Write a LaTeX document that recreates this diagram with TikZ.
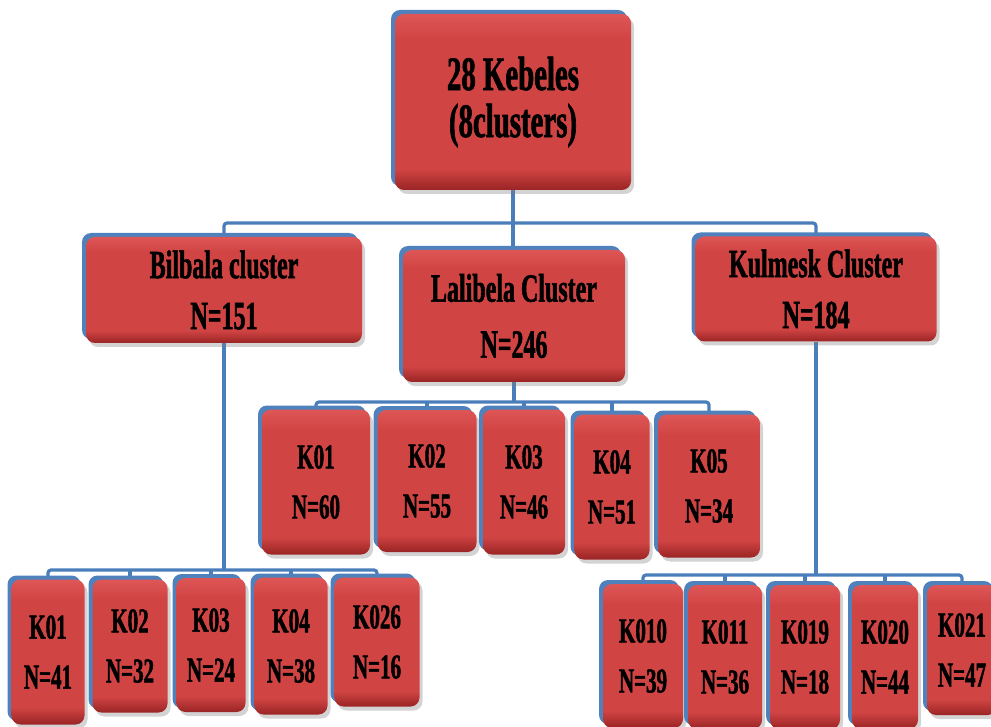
\documentclass[tikz,border=0pt]{standalone}
\usepackage{fontspec}
\newfontfamily\bx[FakeStretch=0.6,FakeBold=1.3]{Liberation Serif Bold}
\usetikzlibrary{shadows}
\definecolor{redtop}{HTML}{DE5656}
\definecolor{redmid}{HTML}{D14444}
\definecolor{redbot}{HTML}{9A2424}
\definecolor{bluebk}{HTML}{4F81BD}
\definecolor{conncol}{HTML}{4A7EBB}
\pgfdeclareverticalshading{redbox}{100bp}{color(0bp)=(redbot); color(25bp)=(redbot); color(31bp)=(redmid); color(68bp)=(redmid); color(75bp)=(redtop); color(100bp)=(redtop)}
\pgfdeclarelayer{background}
\pgfsetlayers{background,main}
\tikzset{
  box/.style={rounded corners=9pt, shading=redbox, align=center, text=black, inner sep=0pt,
    general shadow={fill=bluebk, shadow xshift=-4pt, shadow yshift=4pt},
    drop shadow={shadow xshift=3pt, shadow yshift=-4pt, opacity=.35}},
  topbox/.style={box, font=\bx\fontsize{48}{47}\selectfont},
  clbox/.style={box, font=\bx\fontsize{40}{51}\selectfont},
  leafbox/.style={box, font=\bx\fontsize{35}{50}\selectfont},
  conn/.style={draw=conncol, line width=3.2pt}
}
\begin{document}
\begin{tikzpicture}[x=1pt,y=-1pt]
\useasboundingbox (0,0) rectangle (991,727);
% top
\node[topbox, minimum width=236pt, minimum height=176pt] (top) at (513,102) {28 Kebeles\\(8clusters)};
% clusters
\node[clbox, minimum width=276pt, minimum height=106pt] (bil) at (224,290) {Bilbala cluster\\N=151};
\node[clbox, minimum width=222pt, minimum height=132pt] (lal) at (514,316) {Lalibela Cluster\\[5pt]N=246};
\node[clbox, minimum width=241pt, minimum height=105pt] (kul) at (816,289) {Kulmesk Cluster\\N=184};
% Bilbala children
\node[leafbox, minimum width=73pt, minimum height=145pt] (bk1) at (48,652) {K01\\N=41};
\node[leafbox, minimum width=75pt, minimum height=133pt] (bk2) at (130,646) {K02\\N=32};
\node[leafbox, minimum width=69pt, minimum height=134pt] (bk3) at (211,645) {K03\\N=24};
\node[leafbox, minimum width=73pt, minimum height=137pt] (bk4) at (291,646) {K04\\N=38};
\node[leafbox, minimum width=85pt, minimum height=129pt] (bk5) at (377,642) {K026\\N=16};
% Lalibela children
\node[leafbox, minimum width=108pt, minimum height=145pt] (lk1) at (316,482) {K01\\N=60};
\node[leafbox, minimum width=99pt, minimum height=142pt] (lk2) at (427,481) {K02\\N=55};
\node[leafbox, minimum width=82pt, minimum height=145pt] (lk3) at (524,482) {K03\\N=46};
\node[leafbox, minimum width=75pt, minimum height=145pt] (lk4) at (612,487) {K04\\N=51};
\node[leafbox, minimum width=102pt, minimum height=143pt] (lk5) at (709,486) {K05\\N=34};
% Kulmesk children
\node[leafbox, minimum width=80pt, minimum height=144pt] (kk1) at (643,656) {K010\\N=39};
\node[leafbox, minimum width=74pt, minimum height=144pt] (kk2) at (725,657) {K011\\N=36};
\node[leafbox, minimum width=70pt, minimum height=144pt] (kk3) at (805,657) {K019\\N=18};
\node[leafbox, minimum width=66pt, minimum height=144pt] (kk4) at (885,657) {K020\\N=44};
\node[leafbox, minimum width=70pt, minimum height=130pt] (kk5) at (962,650) {K021\\N=47};
% connectors
\coordinate (b1) at (0,223);
\coordinate (b2) at (0,570);
\coordinate (b3) at (0,402);
\coordinate (b4) at (0,575);
\begin{pgfonlayer}{background}
\draw[conn] (top.south) -- (top.south |- lal.north);
\draw[conn, rounded corners=3pt] (bil.north) |- (kul.north |- b1) -- (kul.north);
% Bilbala
\draw[conn] (bil.south) -- (bil.south |- b2);
\draw[conn, rounded corners=3pt] (bk1.north) |- (bk5.north |- b2) -- (bk5.north);
\foreach \n in {bk2,bk3,bk4} \draw[conn] (\n.north) -- (\n.north |- b2);
% Lalibela
\draw[conn] (lal.south) -- (lal.south |- b3);
\draw[conn, rounded corners=3pt] (lk1.north) |- (lk5.north |- b3) -- (lk5.north);
\foreach \n in {lk2,lk3,lk4} \draw[conn] (\n.north) -- (\n.north |- b3);
% Kulmesk
\draw[conn] (kul.south) -- (kul.south |- b4);
\draw[conn, rounded corners=3pt] (kk1.north) |- (kk5.north |- b4) -- (kk5.north);
\foreach \n in {kk2,kk3,kk4} \draw[conn] (\n.north) -- (\n.north |- b4);
\end{pgfonlayer}
\end{tikzpicture}
\end{document}
